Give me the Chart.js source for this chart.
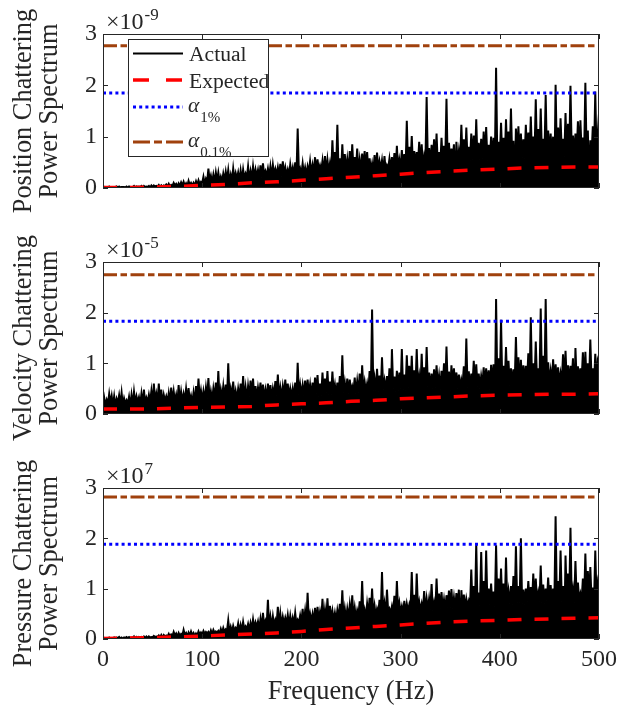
<!DOCTYPE html>
<html lang="en">
<head>
  <meta charset="UTF-8">
  <title>Chattering Power Spectrum</title>
  <script src="https://cdn.jsdelivr.net/npm/chart.js"></script>
  <style>
    body { margin: 0; background: #fff; overflow: hidden; }
    .wrap { position: relative; width: 617px; height: 708px; }
    canvas { position: absolute; left: 0; }
  </style>
</head>
<body>
  <div class="wrap">
    <canvas id="posChart" width="617" height="228" style="top:0"></canvas>
    <canvas id="velChart" width="617" height="222" style="top:228px"></canvas>
    <canvas id="presChart" width="617" height="258" style="top:450px"></canvas>
  </div>

  <script>
    // Each 5 Hz bin: trough A, major spike, trough B, minor spike.
    // Values are the mantissas shown on each axis (see the x10^n labels).
    const binHz = 5;

    // --- Position chattering (x1e-9)
    const posMajor = [
      0.02, 0.03, 0.02, 0.03, 0.02, 0.03, 0.04, 0.03, 0.04, 0.04,
      0.05, 0.06, 0.05, 0.08, 0.10, 0.09, 0.12, 0.14, 0.10, 0.15,
      0.22, 0.38, 0.26, 0.30, 0.28, 0.35, 0.38, 0.30, 0.36, 0.42,
      0.42, 0.35, 0.48, 0.38, 0.45, 0.40, 0.52, 0.36, 0.40, 1.16,
      0.48, 0.42, 0.45, 0.56, 0.53, 0.55, 0.93, 1.23, 0.85, 0.56,
      0.85, 0.77, 0.67, 0.70, 0.48, 0.69, 0.54, 0.44, 0.60, 0.82,
      0.74, 1.31, 1.01, 0.70, 0.85, 1.77, 0.84, 1.06, 0.98, 1.74,
      0.77, 0.90, 1.23, 1.18, 1.06, 1.34, 0.96, 1.19, 1.00, 2.34,
      1.27, 1.34, 1.55, 1.16, 1.06, 1.23, 1.39, 1.73, 1.55, 1.81,
      1.06, 2.01, 1.36, 1.46, 1.99, 1.06, 1.32, 2.05, 0.93, 1.88
    ];
    const posMinor = [
      0.02, 0.02, 0.03, 0.02, 0.03, 0.02, 0.03, 0.04, 0.03, 0.05,
      0.04, 0.05, 0.07, 0.06, 0.08, 0.11, 0.09, 0.10, 0.13, 0.12,
      0.18, 0.24, 0.30, 0.22, 0.32, 0.26, 0.29, 0.34, 0.28, 0.33,
      0.36, 0.44, 0.33, 0.42, 0.37, 0.47, 0.40, 0.46, 0.50, 0.38,
      0.40, 0.52, 0.60, 0.44, 0.62, 0.48, 0.70, 0.58, 0.66, 0.72,
      0.60, 0.55, 0.72, 0.58, 0.64, 0.52, 0.62, 0.57, 0.68, 0.55,
      0.66, 0.80, 0.72, 0.90, 0.62, 0.78, 0.95, 0.70, 0.82, 0.88,
      0.85, 0.72, 0.95, 0.80, 1.02, 0.88, 1.10, 0.84, 0.98, 0.90,
      0.98, 1.10, 0.92, 1.20, 0.95, 1.08, 1.00, 1.15, 0.96, 1.12,
      1.00, 1.18, 0.96, 1.25, 1.02, 1.30, 0.98, 1.12, 1.20, 1.05
    ];
    const posTroughA = [
      0, 0.01, 0.01, 0.01, 0.02, 0.01, 0.02, 0.02, 0.01, 0.02,
      0.02, 0.03, 0.02, 0.03, 0.04, 0.03, 0.05, 0.04, 0.05, 0.06,
      0.10, 0.12, 0.10, 0.14, 0.12, 0.16, 0.13, 0.18, 0.15, 0.20,
      0.18, 0.22, 0.20, 0.25, 0.21, 0.26, 0.22, 0.25, 0.28, 0.24,
      0.28, 0.25, 0.30, 0.27, 0.33, 0.30, 0.28, 0.35, 0.31, 0.33,
      0.30, 0.36, 0.32, 0.38, 0.34, 0.31, 0.37, 0.33, 0.36, 0.34,
      0.40, 0.36, 0.42, 0.45, 0.40, 0.47, 0.42, 0.46, 0.44, 0.50,
      0.46, 0.06, 0.50, 0.47, 0.53, 0.49, 0.55, 0.51, 0.56, 0.52,
      0.58, 0.54, 0.60, 0.06, 0.62, 0.57, 0.60, 0.63, 0.59, 0.64,
      0.60, 0.06, 0.65, 0.61, 0.66, 0.62, 0.67, 0.63, 0.07, 0.64,
      1.45
    ];
    const posTroughB = [
      0.01, 0.01, 0.02, 0.01, 0.01, 0.02, 0.01, 0.02, 0.02, 0.01,
      0.03, 0.02, 0.04, 0.03, 0.05, 0.04, 0.04, 0.06, 0.05, 0.07,
      0.08, 0.14, 0.11, 0.12, 0.15, 0.13, 0.17, 0.14, 0.19, 0.16,
      0.21, 0.19, 0.24, 0.22, 0.26, 0.23, 0.27, 0.24, 0.22, 0.29,
      0.26, 0.31, 0.28, 0.34, 0.29, 0.32, 0.36, 0.30, 0.34, 0.31,
      0.35, 0.31, 0.37, 0.33, 0.30, 0.36, 0.32, 0.38, 0.35, 0.33,
      0.38, 0.43, 0.39, 0.46, 0.42, 0.44, 0.48, 0.43, 0.47, 0.45,
      0.52, 0.48, 0.54, 0.50, 0.55, 0.51, 0.57, 0.53, 0.58, 0.55,
      0.56, 0.61, 0.57, 0.63, 0.59, 0.62, 0.58, 0.65, 0.61, 0.63,
      0.66, 0.62, 0.68, 0.64, 0.67, 0.63, 0.69, 0.65, 0.62, 0.66
    ];

    // --- Velocity chattering (x1e-5)
    const velMajor = [
      0.32, 0.40, 0.35, 0.37, 0.31, 0.34, 0.44, 0.33, 0.48, 0.38,
      0.60, 0.60, 0.38, 0.41, 0.45, 0.57, 0.40, 0.51, 0.42, 0.70,
      0.45, 0.71, 0.50, 0.85, 0.55, 1.00, 0.64, 0.50, 0.75, 0.55,
      0.70, 0.52, 0.58, 0.60, 0.50, 0.78, 0.55, 0.60, 0.50, 1.01,
      0.57, 0.68, 0.62, 0.77, 0.82, 0.85, 0.84, 0.62, 1.16, 0.70,
      0.55, 0.65, 0.96, 0.60, 2.06, 0.89, 1.12, 0.75, 1.28, 0.85,
      1.28, 1.16, 1.15, 1.28, 1.19, 1.32, 0.80, 0.96, 0.85, 1.33,
      0.96, 0.82, 0.68, 1.49, 0.80, 0.98, 0.75, 0.90, 0.97, 2.27,
      1.86, 1.32, 0.90, 1.52, 1.07, 0.95, 1.91, 1.43, 2.08, 2.27,
      0.85, 0.98, 0.80, 1.25, 0.95, 1.30, 0.90, 1.23, 1.47, 1.19
    ];
    const velMinor = [
      0.28, 0.36, 0.30, 0.42, 0.27, 0.38, 0.35, 0.40, 0.32, 0.45,
      0.40, 0.48, 0.35, 0.52, 0.38, 0.44, 0.50, 0.36, 0.55, 0.46,
      0.52, 0.44, 0.62, 0.48, 0.58, 0.50, 0.45, 0.60, 0.52, 0.66,
      0.55, 0.62, 0.48, 0.57, 0.65, 0.52, 0.68, 0.50, 0.62, 0.58,
      0.66, 0.58, 0.72, 0.60, 0.70, 0.64, 0.58, 0.75, 0.62, 0.68,
      0.72, 0.80, 0.64, 0.85, 0.70, 0.76, 0.66, 0.90, 0.74, 0.82,
      0.78, 0.95, 0.86, 0.74, 0.92, 0.82, 0.88, 0.76, 1.00, 0.84,
      0.90, 0.78, 0.94, 0.84, 1.05, 0.80, 0.92, 0.86, 0.98, 1.10,
      0.95, 1.05, 0.88, 1.12, 0.96, 1.20, 1.00, 0.90, 1.15, 1.02,
      1.08, 0.92, 1.18, 0.96, 1.10, 0.94, 1.22, 1.00, 0.90, 1.05
    ];
    const velTroughA = [
      0.14, 0.20, 0.16, 0.22, 0.17, 0.20, 0.18, 0.23, 0.19, 0.24,
      0.21, 0.25, 0.19, 0.23, 0.26, 0.21, 0.25, 0.27, 0.22, 0.28,
      0.26, 0.30, 0.27, 0.25, 0.32, 0.28, 0.33, 0.29, 0.31, 0.27,
      0.33, 0.30, 0.35, 0.31, 0.29, 0.36, 0.32, 0.37, 0.34, 0.31,
      0.38, 0.35, 0.33, 0.40, 0.36, 0.42, 0.38, 0.35, 0.41, 0.39,
      0.44, 0.40, 0.37, 0.45, 0.41, 0.46, 0.43, 0.47, 0.07, 0.44,
      0.50, 0.46, 0.43, 0.51, 0.47, 0.49, 0.45, 0.52, 0.48, 0.50,
      0.46, 0.53, 0.49, 0.51, 0.47, 0.55, 0.50, 0.53, 0.48, 0.06,
      0.55, 0.60, 0.56, 0.58, 0.53, 0.61, 0.57, 0.59, 0.62, 0.56,
      0.63, 0.58, 0.60, 0.62, 0.59, 0.08, 0.64, 0.60, 0.63, 0.58,
      0.97
    ];
    const velTroughB = [
      0.18, 0.22, 0.15, 0.19, 0.21, 0.16, 0.22, 0.18, 0.20, 0.23,
      0.24, 0.20, 0.26, 0.22, 0.25, 0.23, 0.27, 0.24, 0.21, 0.29,
      0.28, 0.25, 0.31, 0.27, 0.30, 0.33, 0.28, 0.32, 0.29, 0.34,
      0.31, 0.35, 0.30, 0.33, 0.36, 0.32, 0.37, 0.34, 0.30, 0.38,
      0.36, 0.40, 0.37, 0.34, 0.41, 0.38, 0.43, 0.39, 0.42, 0.40,
      0.45, 0.42, 0.47, 0.43, 0.46, 0.44, 0.48, 0.45, 0.50, 0.46,
      0.48, 0.52, 0.47, 0.53, 0.49, 0.54, 0.50, 0.55, 0.51, 0.53,
      0.55, 0.50, 0.57, 0.52, 0.58, 0.54, 0.59, 0.55, 0.60, 0.57,
      0.58, 0.62, 0.57, 0.63, 0.60, 0.64, 0.59, 0.65, 0.61, 0.63,
      0.62, 0.66, 0.61, 0.64, 0.67, 0.63, 0.65, 0.62, 0.66, 0.60
    ];

    // --- Pressure chattering (x1e7)
    const presMajor = [
      0.02, 0.03, 0.03, 0.04, 0.03, 0.04, 0.05, 0.04, 0.05, 0.05,
      0.06, 0.07, 0.08, 0.10, 0.14, 0.12, 0.18, 0.13, 0.12, 0.15,
      0.16, 0.14, 0.18, 0.16, 0.22, 0.37, 0.26, 0.31, 0.34, 0.30,
      0.39, 0.35, 0.52, 0.78, 0.45, 0.64, 0.44, 0.48, 0.42, 0.38,
      0.60, 0.92, 0.50, 0.64, 0.80, 0.81, 0.56, 0.57, 0.97, 0.60,
      0.87, 0.57, 1.15, 0.70, 1.00, 0.60, 1.33, 0.98, 0.65, 1.15,
      0.65, 0.70, 1.33, 1.30, 0.70, 0.80, 1.09, 1.20, 0.93, 0.87,
      0.99, 0.91, 0.97, 0.80, 1.38, 1.90, 1.73, 1.76, 1.10, 1.86,
      1.40, 1.62, 1.05, 1.84, 2.00, 1.00, 1.03, 1.20, 1.46, 1.00,
      1.07, 2.44, 1.76, 1.66, 2.21, 1.55, 0.90, 1.70, 1.43, 1.76
    ];
    const presMinor = [
      0.02, 0.02, 0.03, 0.03, 0.04, 0.03, 0.04, 0.04, 0.05, 0.04,
      0.05, 0.08, 0.07, 0.09, 0.11, 0.10, 0.12, 0.15, 0.11, 0.13,
      0.14, 0.17, 0.15, 0.20, 0.19, 0.24, 0.22, 0.28, 0.25, 0.32,
      0.33, 0.40, 0.36, 0.44, 0.38, 0.50, 0.42, 0.46, 0.52, 0.47,
      0.55, 0.50, 0.62, 0.54, 0.58, 0.66, 0.52, 0.70, 0.60, 0.68,
      0.62, 0.75, 0.58, 0.82, 0.66, 0.78, 0.70, 0.60, 0.86, 0.72,
      0.76, 0.68, 0.88, 0.74, 0.95, 0.80, 0.72, 0.90, 0.78, 0.96,
      0.82, 0.98, 0.88, 0.76, 1.05, 0.92, 1.15, 1.00, 0.94, 1.20,
      1.10, 0.95, 1.25, 1.05, 0.98, 1.15, 1.30, 0.92, 1.08, 1.22,
      1.00, 1.15, 1.05, 1.30, 0.98, 1.12, 1.20, 1.35, 1.02, 1.10
    ];
    const presTroughA = [
      0, 0.01, 0.01, 0.02, 0.01, 0.02, 0.02, 0.01, 0.02, 0.02,
      0.03, 0.04, 0.03, 0.05, 0.06, 0.05, 0.07, 0.06, 0.08, 0.07,
      0.09, 0.11, 0.10, 0.13, 0.12, 0.16, 0.14, 0.18, 0.16, 0.20,
      0.20, 0.24, 0.22, 0.27, 0.24, 0.29, 0.26, 0.31, 0.28, 0.30,
      0.33, 0.30, 0.36, 0.32, 0.38, 0.35, 0.40, 0.36, 0.42, 0.39,
      0.44, 0.40, 0.46, 0.42, 0.48, 0.45, 0.50, 0.47, 0.52, 0.48,
      0.53, 0.50, 0.55, 0.51, 0.57, 0.54, 0.58, 0.55, 0.60, 0.57,
      0.62, 0.58, 0.07, 0.60, 0.65, 0.61, 0.66, 0.62, 0.68, 0.64,
      0.69, 0.65, 0.70, 0.66, 0.72, 0.68, 0.73, 0.69, 0.74, 0.70,
      0.75, 0.71, 0.74, 0.08, 0.76, 0.72, 0.77, 0.74, 0.78, 0.73,
      0.90
    ];
    const presTroughB = [
      0.01, 0.01, 0.02, 0.01, 0.02, 0.02, 0.01, 0.03, 0.02, 0.03,
      0.04, 0.03, 0.05, 0.04, 0.07, 0.06, 0.08, 0.07, 0.06, 0.09,
      0.10, 0.09, 0.12, 0.11, 0.14, 0.13, 0.17, 0.15, 0.19, 0.18,
      0.22, 0.20, 0.25, 0.23, 0.27, 0.25, 0.30, 0.27, 0.29, 0.32,
      0.31, 0.35, 0.33, 0.37, 0.34, 0.39, 0.37, 0.41, 0.38, 0.43,
      0.42, 0.47, 0.44, 0.49, 0.46, 0.51, 0.48, 0.53, 0.50, 0.55,
      0.51, 0.56, 0.53, 0.58, 0.55, 0.59, 0.56, 0.61, 0.58, 0.62,
      0.60, 0.64, 0.61, 0.66, 0.63, 0.67, 0.64, 0.69, 0.65, 0.70,
      0.67, 0.71, 0.68, 0.72, 0.70, 0.74, 0.71, 0.75, 0.72, 0.76,
      0.73, 0.77, 0.74, 0.78, 0.75, 0.79, 0.76, 0.80, 0.77, 0.81
    ];

    // Expected spectrum, sampled every 25 Hz
    const expectedHz = [0, 25, 50, 75, 100, 125, 150, 175, 200, 225, 250,
                        275, 300, 325, 350, 375, 400, 425, 450, 475, 500];
    const posExpected = [0.01, 0.01, 0.02, 0.03, 0.05, 0.07, 0.10, 0.12, 0.15, 0.18, 0.21,
                         0.24, 0.27, 0.30, 0.33, 0.35, 0.37, 0.39, 0.40, 0.41, 0.41];
    const velExpected = [0.10, 0.10, 0.10, 0.12, 0.13, 0.14, 0.15, 0.18, 0.20, 0.22, 0.25,
                         0.27, 0.30, 0.32, 0.34, 0.36, 0.37, 0.38, 0.39, 0.39, 0.40];
    const presExpected = [0.01, 0.02, 0.03, 0.04, 0.06, 0.08, 0.10, 0.12, 0.15, 0.19, 0.22,
                          0.25, 0.28, 0.31, 0.34, 0.36, 0.37, 0.39, 0.40, 0.41, 0.42];

    // Significance thresholds [alpha 1%, alpha 0.1%]
    const posAlpha = [1.85, 2.77];
    const velAlpha = [1.83, 2.75];
    const presAlpha = [1.88, 2.82];

    const freqRange = [0, 500];
    const serif = '"Liberation Serif", "Times New Roman", serif';
    const axisColor = '#262626';
    const brown = '#A0410D';

    Chart.defaults.font.family = serif;
    Chart.defaults.color = axisColor;

    // trough A, major spike, trough B, minor spike, ... in frequency order
    function spectrum(major, minor, troughA, troughB) {
      const pts = [];
      troughA.forEach((t, k) => {
        const f = k * binHz;
        pts.push({ x: f, y: t });
        if (k < major.length) {
          pts.push({ x: f + binHz / 4, y: major[k] });
          pts.push({ x: f + binHz / 2, y: troughB[k] });
          pts.push({ x: f + binHz * 3 / 4, y: minor[k] });
        }
      });
      return pts;
    }

    function flat(value) {
      return freqRange.map(f => ({ x: f, y: value }));
    }

    // Box, inward ticks and the x10^n label (MATLAB style)
    const frame = {
      id: 'frame',
      afterDatasetsDraw(chart, args, opts) {
        const { ctx, chartArea: a, scales: { x, y } } = chart;
        ctx.save();
        ctx.strokeStyle = axisColor;
        ctx.lineWidth = 1;
        ctx.strokeRect(a.left + 0.5, a.top + 0.5, a.right - a.left - 1, a.bottom - a.top - 1);
        ctx.beginPath();
        x.ticks.forEach(t => {
          const px = Math.round(x.getPixelForValue(t.value)) + 0.5;
          ctx.moveTo(px, a.bottom); ctx.lineTo(px, a.bottom - 5);
          ctx.moveTo(px, a.top); ctx.lineTo(px, a.top + 5);
        });
        y.ticks.forEach(t => {
          const py = Math.round(y.getPixelForValue(t.value)) + 0.5;
          ctx.moveTo(a.left, py); ctx.lineTo(a.left + 5, py);
          ctx.moveTo(a.right, py); ctx.lineTo(a.right - 5, py);
        });
        ctx.stroke();

        ctx.fillStyle = axisColor;
        ctx.textAlign = 'left';
        ctx.textBaseline = 'alphabetic';
        ctx.font = '24px ' + serif;
        ctx.fillText('\u00d710', a.left + 3, a.top - 5.5);
        const w = ctx.measureText('\u00d710').width;
        ctx.font = '17px ' + serif;
        ctx.fillText(opts.exponent, a.left + 3 + w + 1, a.top - 14.5);
        ctx.restore();
      }
    };

    // Legend box with TeX-like subscripts, top panel only
    const legendRows = [
      { text: 'Actual', sub: '', color: '#000000', width: 2, dash: [], y: 53.5 },
      { text: 'Expected', sub: '', color: '#FF0000', width: 3.5, dash: [16, 17], y: 80 },
      { text: '\u03b1', sub: '1%', color: '#0000FF', width: 3, dash: [3, 3.2], y: 107 },
      { text: '\u03b1', sub: '0.1%', color: brown, width: 3, dash: [17, 4, 8, 4], y: 142 }
    ];
    const legendBox = {
      id: 'legendBox',
      afterDraw(chart) {
        const ctx = chart.ctx;
        ctx.save();
        ctx.fillStyle = '#fff';
        ctx.fillRect(128, 39, 141, 118);
        ctx.strokeStyle = axisColor;
        ctx.lineWidth = 1;
        ctx.strokeRect(128.5, 39.5, 140, 117);
        legendRows.forEach(r => {
          ctx.beginPath();
          ctx.strokeStyle = r.color;
          ctx.lineWidth = r.width;
          ctx.setLineDash(r.dash);
          ctx.moveTo(133, r.y);
          ctx.lineTo(183, r.y);
          ctx.stroke();
          ctx.setLineDash([]);
          ctx.fillStyle = axisColor;
          ctx.textAlign = 'left';
          ctx.textBaseline = 'alphabetic';
          if (r.sub) {
            ctx.font = 'italic 21.6px ' + serif;
            ctx.fillText(r.text, 188, r.y + 5);
            const w = ctx.measureText(r.text).width;
            ctx.font = '15px ' + serif;
            ctx.fillText(r.sub, 188 + w + 1, r.y + 14.5);
          } else {
            ctx.font = '21.6px ' + serif;
            ctx.fillText(r.text, 189, r.y + 7.5);
          }
        });
        ctx.restore();
      }
    };

    function makePanel(id, cfg) {
      const datasets = [
        {
          label: 'Actual',
          data: spectrum(cfg.major, cfg.minor, cfg.troughA, cfg.troughB),
          borderColor: '#000000',
          backgroundColor: '#000000',
          borderWidth: 2,
          fill: 'origin',
          pointRadius: 0,
          order: 3
        },
        {
          label: 'Expected',
          data: expectedHz.map((f, i) => ({ x: f, y: cfg.expected[i] })),
          borderColor: '#FF0000',
          borderWidth: 3.5,
          borderDash: [14, 13],
          pointRadius: 0,
          fill: false,
          order: 2
        },
        {
          label: 'alpha 1%',
          data: flat(cfg.alpha[0]),
          borderColor: '#0000FF',
          borderWidth: 3,
          borderDash: [3, 3.2],
          pointRadius: 0,
          fill: false,
          order: 1
        },
        {
          label: 'alpha 0.1%',
          data: flat(cfg.alpha[1]),
          borderColor: brown,
          borderWidth: 3,
          borderDash: [14, 3.5, 6.5, 3.5],
          pointRadius: 0,
          fill: false,
          order: 0
        }
      ];

      return new Chart(document.getElementById(id), {
        type: 'line',
        data: { datasets },
        plugins: cfg.legend ? [frame, legendBox] : [frame],
        options: {
          responsive: false,
          animation: false,
          devicePixelRatio: 1,
          layout: { padding: { left: 0, right: 18, top: cfg.top, bottom: 0 } },
          plugins: {
            legend: { display: false },
            tooltip: { enabled: false },
            frame: { exponent: cfg.exponent }
          },
          scales: {
            x: {
              type: 'linear',
              min: freqRange[0],
              max: freqRange[1],
              grid: { display: false, drawTicks: false },
              border: { display: false },
              ticks: {
                display: cfg.xLabels,
                stepSize: 100,
                padding: 6,
                font: { size: 24 },
                maxRotation: 0
              },
              title: {
                display: cfg.xLabels,
                text: 'Frequency (Hz)',
                font: { size: 26.4, lineHeight: 1 },
                padding: { top: 0, bottom: 3 }
              },
              afterFit: s => {
                s.height = cfg.xHeight;
                s.paddingLeft = 0;
                s.paddingRight = 0;
              }
            },
            y: {
              min: 0,
              max: 3,
              grid: { display: false, drawTicks: false },
              border: { display: false },
              ticks: { stepSize: 1, padding: 6, font: { size: 24 } },
              title: {
                display: true,
                text: cfg.title,
                font: { size: 26.4, lineHeight: 1 },
                padding: { top: 10.8, bottom: 0 }
              },
              afterFit: s => {
                s.width = 103;
                s.paddingTop = 0;
                s.paddingBottom = 0;
              }
            }
          }
        }
      });
    }

    makePanel('posChart', {
      major: posMajor, minor: posMinor, troughA: posTroughA, troughB: posTroughB,
      expected: posExpected, alpha: posAlpha,
      title: ['Position Chattering', 'Power Spectrum'], exponent: '-9',
      top: 34, xHeight: 40, xLabels: false, legend: true
    });
    makePanel('velChart', {
      major: velMajor, minor: velMinor, troughA: velTroughA, troughB: velTroughB,
      expected: velExpected, alpha: velAlpha,
      title: ['Velocity Chattering', 'Power Spectrum'], exponent: '-5',
      top: 34, xHeight: 36, xLabels: false, legend: false
    });
    makePanel('presChart', {
      major: presMajor, minor: presMinor, troughA: presTroughA, troughB: presTroughB,
      expected: presExpected, alpha: presAlpha,
      title: ['Pressure Chattering', 'Power Spectrum'], exponent: '7',
      top: 38, xHeight: 69, xLabels: true, legend: false
    });
  </script>
</body>
</html>
